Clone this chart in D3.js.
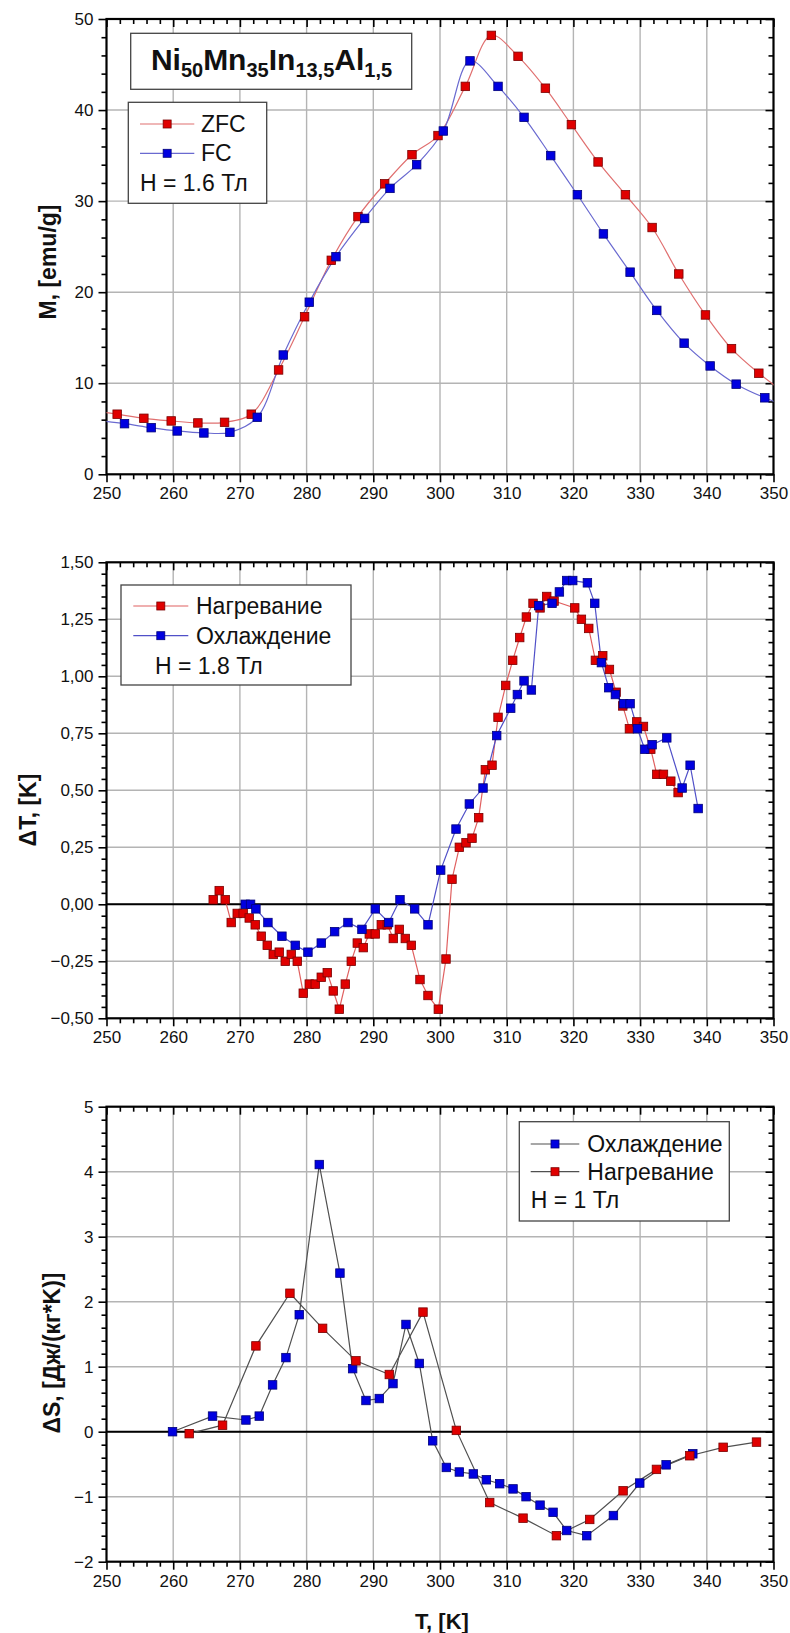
<!DOCTYPE html>
<html><head><meta charset="utf-8">
<script src="https://cdn.jsdelivr.net/npm/d3@7"></script>
<style>
body{margin:0;background:#fff;}
svg text{font-family:"Liberation Sans",Arial,sans-serif;fill:#111;}
</style></head>
<body>
<script>
// ---------- DATA ----------
const xTicks = [250,260,270,280,290,300,310,320,330,340,350];

// Panel 1: magnetization, H = 1.6 Tl
const zfcT = [247.7,251.6,255.6,259.7,263.7,267.7,271.7,275.8,279.7,283.7,287.7,291.7,295.8,299.7,303.8,307.7,311.7,315.8,319.7,323.7,327.8,331.8,335.8,339.8,343.7,347.8,351.8];
const zfcM = [7.0,6.6,6.15,5.86,5.64,5.71,6.6,11.46,17.3,23.5,28.3,31.9,35.1,37.2,42.6,48.2,45.9,42.4,38.4,34.3,30.7,27.1,22.0,17.5,13.8,11.1,8.9];
const fcT  = [248.7,252.7,256.7,260.6,264.6,268.5,272.6,276.5,280.4,284.4,288.7,292.5,296.5,300.5,304.5,308.7,312.6,316.6,320.6,324.5,328.5,332.5,336.6,340.5,344.4,348.7,352.7];
const fcM  = [5.9,5.56,5.12,4.76,4.54,4.61,6.26,13.1,18.9,23.9,28.1,31.4,34.0,37.7,45.4,42.6,39.2,35.0,30.7,26.4,22.2,18.0,14.4,11.9,9.9,8.4,7.3];
const mTicks = [0,10,20,30,40,50];

// Panel 2: adiabatic temperature change, H = 1.8 Tl
const heatT  = [266.0,266.9,267.8,268.7,269.6,270.5,271.4,272.3,273.2,274.1,275.0,275.9,276.8,277.7,278.6,279.5,280.4,281.3,282.2,283.1,284.0,284.9,285.8,286.7,287.6,288.5,289.4,290.3,291.2,292.1,293.0,293.9,294.8,295.7,297.0,298.2,299.75,300.9,301.8,302.9,303.9,304.8,305.8,306.8,307.8,308.7,309.85,310.9,311.95,312.95,313.95,315.0,316.0,317.1,320.2,321.2,322.3,323.3,324.4,325.4,326.4,327.4,328.4,329.5,330.5,331.6,332.5,333.5,334.6,335.7];
const heatDT = [0.02,0.06,0.02,-0.08,-0.04,-0.04,-0.06,-0.09,-0.14,-0.18,-0.22,-0.21,-0.25,-0.22,-0.25,-0.39,-0.35,-0.35,-0.32,-0.30,-0.38,-0.46,-0.35,-0.25,-0.17,-0.19,-0.13,-0.13,-0.09,-0.09,-0.15,-0.11,-0.15,-0.18,-0.33,-0.40,-0.46,-0.24,0.11,0.25,0.27,0.29,0.38,0.59,0.61,0.82,0.96,1.07,1.17,1.26,1.32,1.30,1.35,1.33,1.30,1.25,1.21,1.07,1.09,1.03,0.93,0.87,0.77,0.80,0.78,0.68,0.57,0.57,0.54,0.49];
const coolT  = [270.8,271.6,272.4,274.2,276.3,278.3,280.2,282.2,284.2,286.2,288.3,290.3,292.3,294.0,296.2,298.2,300.1,302.4,304.4,306.45,308.5,310.6,311.6,312.6,313.7,314.8,316.8,317.9,319.0,319.9,322.1,323.2,324.2,325.3,326.3,327.5,328.5,329.6,330.7,331.8,334.0,336.3,337.5,338.7];
const coolDT = [0.00,0.00,-0.02,-0.08,-0.14,-0.18,-0.21,-0.17,-0.12,-0.08,-0.11,-0.02,-0.08,0.02,-0.02,-0.09,0.15,0.33,0.44,0.51,0.74,0.86,0.92,0.98,0.94,1.31,1.32,1.37,1.42,1.42,1.41,1.32,1.06,0.95,0.92,0.88,0.88,0.77,0.68,0.70,0.73,0.51,0.61,0.42];
const dtTicks = [-0.5,-0.25,0,0.25,0.5,0.75,1.0,1.25,1.5];

// Panel 3: entropy change, H = 1 Tl
const sCoolT = [259.9,265.9,270.9,272.9,274.9,276.9,278.9,281.9,285.0,286.9,288.9,290.9,292.95,294.9,296.9,298.9,300.95,302.9,305.0,306.95,308.95,310.95,312.9,315.0,316.95,319.0,322.0,326.0,329.95,333.9,337.9];
const sCoolS = [0.0,0.24,0.18,0.24,0.72,1.14,1.80,4.11,2.44,0.97,0.48,0.51,0.74,1.65,1.05,-0.14,-0.55,-0.62,-0.65,-0.74,-0.80,-0.88,-1.00,-1.13,-1.24,-1.52,-1.60,-1.29,-0.79,-0.51,-0.34];
const sHeatT = [262.4,267.4,272.4,277.5,282.4,287.4,292.4,297.45,302.45,307.45,312.45,317.45,322.45,327.45,332.45,337.45,342.45,347.45];
const sHeatS = [-0.03,0.10,1.32,2.13,1.59,1.09,0.88,1.84,0.02,-1.09,-1.33,-1.60,-1.35,-0.91,-0.58,-0.37,-0.24,-0.16];
const dsTicks = [-2,-1,0,1,2,3,4,5];

// ---------- DRAWING ----------
const W = 790, H = 1633;
const svg = d3.select("body").append("svg").attr("width", W).attr("height", H);
const X0 = 106.5, X1 = 773.5;
const RED = "#e00000", BLUE = "#0000e0";
const MS = 8.5;

function zip(a, b){ return a.map((v,i)=>({x:v, y:b[i]})); }

function panel(opt){
  const x = d3.scaleLinear().domain([250,350]).range([X0,X1]);
  const y = d3.scaleLinear().domain(opt.yDomain).range([opt.bottom, opt.top]);
  const g = svg.append("g");
  const id = "clip" + opt.key;
  svg.append("clipPath").attr("id", id).append("rect")
    .attr("x", X0).attr("y", opt.top).attr("width", X1-X0).attr("height", opt.bottom-opt.top);

  // grid
  const grid = g.append("g").attr("stroke", "#b4b4b4").attr("stroke-width", 1.4);
  xTicks.slice(1,-1).forEach(t => grid.append("line").attr("x1", x(t)).attr("x2", x(t)).attr("y1", opt.top).attr("y2", opt.bottom));
  opt.yTicks.slice(1,-1).forEach(t => grid.append("line").attr("x1", X0).attr("x2", X1).attr("y1", y(t)).attr("y2", y(t)));

  if (opt.zeroLine) {
    g.append("line").attr("x1", X0).attr("x2", X1).attr("y1", y(0)).attr("y2", y(0))
      .attr("stroke", "#000").attr("stroke-width", 2);
  }

  const xMinor = d3.range(250, 350.01, 2).filter(v => !xTicks.includes(v));
  const yMinor = d3.range(opt.yDomain[0], opt.yDomain[1] + 1e-9, opt.yMinorStep)
      .map(v => +v.toFixed(4)).filter(v => !opt.yTicks.some(t => Math.abs(t - v) < 1e-6));

  // axes: bottom/left outward, top/right inward
  const axB = g.append("g").attr("transform", `translate(0,${opt.bottom})`)
    .call(d3.axisBottom(x).tickValues(xTicks).tickSizeInner(8).tickSizeOuter(0).tickPadding(5).tickFormat(d3.format("d")));
  const axB2 = g.append("g").attr("transform", `translate(0,${opt.bottom})`)
    .call(d3.axisBottom(x).tickValues(xMinor).tickSizeInner(5).tickSizeOuter(0).tickFormat(""));
  const axT = g.append("g").attr("transform", `translate(0,${opt.top})`)
    .call(d3.axisTop(x).tickValues(xTicks).tickSizeInner(-8).tickSizeOuter(0).tickFormat(""));
  const axT2 = g.append("g").attr("transform", `translate(0,${opt.top})`)
    .call(d3.axisTop(x).tickValues(xMinor).tickSizeInner(-5).tickSizeOuter(0).tickFormat(""));
  const axL = g.append("g").attr("transform", `translate(${X0},0)`)
    .call(d3.axisLeft(y).tickValues(opt.yTicks).tickSizeInner(8).tickSizeOuter(0).tickPadding(5).tickFormat(opt.fmt));
  const axL2 = g.append("g").attr("transform", `translate(${X0},0)`)
    .call(d3.axisLeft(y).tickValues(yMinor).tickSizeInner(5).tickSizeOuter(0).tickFormat(""));
  const axR = g.append("g").attr("transform", `translate(${X1},0)`)
    .call(d3.axisRight(y).tickValues(opt.yTicks).tickSizeInner(-8).tickSizeOuter(0).tickFormat(""));
  const axR2 = g.append("g").attr("transform", `translate(${X1},0)`)
    .call(d3.axisRight(y).tickValues(yMinor).tickSizeInner(-5).tickSizeOuter(0).tickFormat(""));
  [axB, axB2, axT, axT2, axL, axL2, axR, axR2].forEach(a => {
    a.selectAll(".domain").remove();
    a.selectAll("line").attr("stroke", "#000").attr("stroke-width", 1.6);
    a.selectAll("text").attr("font-size", 17).attr("font-family", '"Liberation Sans",Arial,sans-serif').attr("fill", "#111");
  });

  // frame
  g.append("rect").attr("x", X0).attr("y", opt.top).attr("width", X1-X0).attr("height", opt.bottom-opt.top)
    .attr("fill", "none").attr("stroke", "#000").attr("stroke-width", 2.2);

  // series
  const dg = g.append("g").attr("clip-path", `url(#${id})`);
  opt.series.forEach(s => {
    const line = d3.line().x(d => x(d.x)).y(d => y(d.y)).curve(opt.curve || d3.curveLinear);
    dg.append("path").attr("d", line(s.data)).attr("fill", "none")
      .attr("stroke", s.lineColor).attr("stroke-width", 1.2);
  });
  opt.series.forEach(s => {
    dg.selectAll(null).data(s.data).enter().append("rect")
      .attr("x", d => x(d.x) - MS/2).attr("y", d => y(d.y) - MS/2).attr("width", MS).attr("height", MS)
      .attr("fill", s.color).attr("stroke", s.edge).attr("stroke-width", 0.8);
  });

  // y title
  svg.append("text").attr("transform", `translate(${opt.yTitleX},${opt.yTitleY}) rotate(-90)`)
    .attr("text-anchor", "middle").attr("dominant-baseline", "central")
    .attr("font-size", 23).attr("font-weight", "bold").text(opt.yTitle);

  // legend
  const L = opt.legend;
  svg.append("rect").attr("x", L.x).attr("y", L.y).attr("width", L.w).attr("height", L.h)
    .attr("fill", "#fff").attr("stroke", "#444").attr("stroke-width", 1.3);
  L.items.forEach((it, i) => {
    const cy = L.rows[i];
    if (it.series) {
      svg.append("line").attr("x1", L.lx0).attr("x2", L.lx1).attr("y1", cy).attr("y2", cy)
        .attr("stroke", it.series.lineColor).attr("stroke-width", 1.2);
      svg.append("rect").attr("x", (L.lx0+L.lx1)/2 - 4).attr("y", cy - 4).attr("width", 8).attr("height", 8)
        .attr("fill", it.series.color).attr("stroke", it.series.edge).attr("stroke-width", 0.8);
      svg.append("text").attr("x", L.tx).attr("y", cy).attr("dominant-baseline", "central")
        .attr("font-size", 23).text(it.label);
    } else {
      svg.append("text").attr("x", it.x || L.lx0).attr("y", cy).attr("dominant-baseline", "central")
        .attr("font-size", 23).text(it.label);
    }
  });
  return {x, y};
}

const fmtComma = v => d3.format(".2f")(v).replace(".", ",");

// Panel 1
const sZFC = {data: zip(zfcT, zfcM), color: RED, edge: "#7a0000", lineColor: "#e07070"};
const sFC  = {data: zip(fcT, fcM),  color: BLUE, edge: "#00007a", lineColor: "#6a6ad0"};
panel({key:1, top:19, bottom:474.3, yDomain:[0,50], yTicks:mTicks, yMinorStep:2, fmt:d3.format("d"),
  curve: d3.curveCatmullRom.alpha(0.5),
  series:[sZFC, sFC], yTitle:"M, [emu/g]", yTitleX:48, yTitleY:262,
  legend:{x:128.3, y:102.3, w:138.4, h:101, lx0:140, lx1:194.3, tx:201, rows:[124,153.3,183.3],
    items:[{series:sZFC,label:"ZFC"},{series:sFC,label:"FC"},{label:"H = 1.6 Тл", x:140}]}
});

// Title box
svg.append("rect").attr("x",130.7).attr("y",33.3).attr("width",281).attr("height",56)
  .attr("fill","#fff").attr("stroke","#444").attr("stroke-width",1.3);
const title = svg.append("text").attr("x", 271.5).attr("y", 70).attr("text-anchor","middle")
  .attr("font-size", 30).attr("font-weight","bold");
[["Ni",0],["50",1],["Mn",0],["35",1],["In",0],["13,5",1],["Al",0],["1,5",1]].forEach(([t,sub],i)=>{
  const ts = title.append("tspan").text(t);
  if (sub) ts.attr("font-size", 20).attr("dy", 7);
  else if (i>0) ts.attr("dy", -7);
});

// Panel 2
const sHeat = {data: zip(heatT, heatDT), color: RED, edge: "#7a0000", lineColor: "#e06060"};
const sCool = {data: zip(coolT, coolDT), color: BLUE, edge: "#00007a", lineColor: "#5050c8"};
panel({key:2, top:562.3, bottom:1018.3, yDomain:[-0.5,1.5], yTicks:dtTicks, yMinorStep:0.05, fmt:fmtComma,
  zeroLine:true, series:[sHeat, sCool], yTitle:"ΔT, [K]", yTitleX:28, yTitleY:810,
  legend:{x:121, y:585, w:230, h:100, lx0:133.3, lx1:188.3, tx:196, rows:[606,635.7,666],
    items:[{series:sHeat,label:"Нагревание"},{series:sCool,label:"Охлаждение"},{label:"H = 1.8 Тл", x:155}]}
});

// Panel 3
const sSCool = {data: zip(sCoolT, sCoolS), color: BLUE, edge: "#00007a", lineColor: "#505050"};
const sSHeat = {data: zip(sHeatT, sHeatS), color: RED, edge: "#7a0000", lineColor: "#505050"};
panel({key:3, top:1106.7, bottom:1561.7, yDomain:[-2,5], yTicks:dsTicks, yMinorStep:0.2, fmt:d3.format("d"),
  zeroLine:true, series:[sSCool, sSHeat], yTitle:"ΔS, [Дж/(кг*K)]", yTitleX:52, yTitleY:1353,
  legend:{x:519.3, y:1121.7, w:210, h:99.3, lx0:530.7, lx1:579.3, tx:587.3, rows:[1144,1171.7,1200],
    items:[{series:sSCool,label:"Охлаждение"},{series:sSHeat,label:"Нагревание"},{label:"H = 1 Тл", x:530.7}]}
});

// x title
svg.append("text").attr("x", 442).attr("y", 1621).attr("text-anchor","middle").attr("dominant-baseline","central")
  .attr("font-size", 22).attr("font-weight","bold").text("T, [K]");
</script>
</body></html>
